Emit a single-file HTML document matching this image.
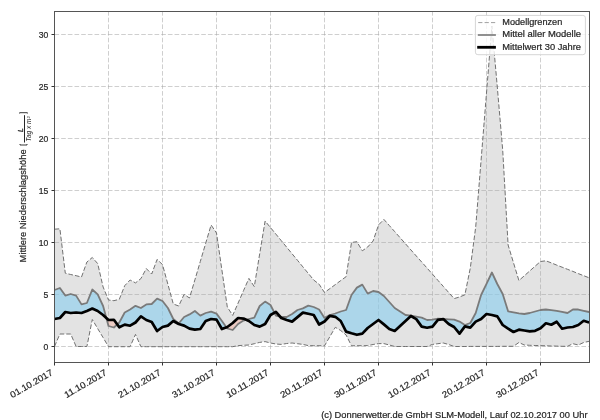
<!DOCTYPE html>
<html><head><meta charset="utf-8"><style>
html,body{margin:0;padding:0;background:#fff;}
svg{display:block;will-change:transform;}
text{font-family:"Liberation Sans",sans-serif;font-size:8.6px;fill:#262626;stroke:#262626;stroke-width:0.2px;}
</style></head><body>
<svg width="600" height="420" viewBox="0 0 600 420">
<defs>
<clipPath id="ca"><polygon points="54.5,319.0 59.9,318.0 65.3,312.0 70.7,313.0 76.1,312.5 81.5,313.0 86.9,311.0 92.3,308.6 97.7,311.0 103.1,315.0 108.5,320.0 113.9,319.8 119.3,327.3 124.7,324.6 130.1,325.7 135.5,322.5 140.9,316.4 146.3,320.0 151.7,322.0 157.1,331.0 162.5,327.0 167.9,325.6 173.3,321.0 178.7,324.0 184.1,325.6 189.5,328.6 194.9,329.6 200.3,329.0 205.7,321.0 211.1,319.0 216.5,319.6 221.9,329.0 227.3,327.0 232.7,323.0 238.1,318.0 243.5,318.6 248.9,321.0 254.3,325.0 259.7,326.6 265.1,324.0 270.5,315.0 275.9,311.8 281.3,318.0 286.7,320.0 292.1,321.6 297.5,317.1 302.9,312.6 308.3,313.8 313.7,315.0 319.1,324.5 324.5,321.5 329.9,315.8 335.3,316.8 340.7,321.0 346.1,331.6 351.5,333.3 356.9,334.8 362.3,333.6 367.7,328.0 373.1,324.0 378.5,320.0 383.9,324.4 389.3,329.0 394.7,331.0 400.1,326.0 405.5,321.0 410.9,316.0 416.3,319.1 421.7,326.6 427.1,327.7 432.5,326.6 437.9,319.9 443.3,319.1 448.7,324.0 454.1,327.0 459.5,333.6 464.9,326.4 470.3,327.6 475.7,321.6 481.1,319.0 486.5,314.0 491.9,315.0 497.3,316.4 502.7,325.0 508.1,328.7 513.5,332.0 518.9,329.7 524.3,330.5 529.7,331.3 535.1,330.8 540.5,328.3 545.9,323.3 551.3,324.7 556.7,321.7 562.1,328.7 567.5,327.5 572.9,327.0 578.3,325.0 583.7,320.8 589.1,322.5 589.1,0 54.5,0"/></clipPath>
<clipPath id="cb"><polygon points="54.5,319.0 59.9,318.0 65.3,312.0 70.7,313.0 76.1,312.5 81.5,313.0 86.9,311.0 92.3,308.6 97.7,311.0 103.1,315.0 108.5,320.0 113.9,319.8 119.3,327.3 124.7,324.6 130.1,325.7 135.5,322.5 140.9,316.4 146.3,320.0 151.7,322.0 157.1,331.0 162.5,327.0 167.9,325.6 173.3,321.0 178.7,324.0 184.1,325.6 189.5,328.6 194.9,329.6 200.3,329.0 205.7,321.0 211.1,319.0 216.5,319.6 221.9,329.0 227.3,327.0 232.7,323.0 238.1,318.0 243.5,318.6 248.9,321.0 254.3,325.0 259.7,326.6 265.1,324.0 270.5,315.0 275.9,311.8 281.3,318.0 286.7,320.0 292.1,321.6 297.5,317.1 302.9,312.6 308.3,313.8 313.7,315.0 319.1,324.5 324.5,321.5 329.9,315.8 335.3,316.8 340.7,321.0 346.1,331.6 351.5,333.3 356.9,334.8 362.3,333.6 367.7,328.0 373.1,324.0 378.5,320.0 383.9,324.4 389.3,329.0 394.7,331.0 400.1,326.0 405.5,321.0 410.9,316.0 416.3,319.1 421.7,326.6 427.1,327.7 432.5,326.6 437.9,319.9 443.3,319.1 448.7,324.0 454.1,327.0 459.5,333.6 464.9,326.4 470.3,327.6 475.7,321.6 481.1,319.0 486.5,314.0 491.9,315.0 497.3,316.4 502.7,325.0 508.1,328.7 513.5,332.0 518.9,329.7 524.3,330.5 529.7,331.3 535.1,330.8 540.5,328.3 545.9,323.3 551.3,324.7 556.7,321.7 562.1,328.7 567.5,327.5 572.9,327.0 578.3,325.0 583.7,320.8 589.1,322.5 589.1,420 54.5,420"/></clipPath>
<clipPath id="ax"><rect x="54.5" y="11.5" width="535.0" height="351.0"/></clipPath>
</defs>
<rect width="600" height="420" fill="#fff"/>
<g clip-path="url(#ax)">
<polygon points="54.5,229.2 59.9,228.8 65.3,273.2 70.7,274.5 76.1,275.7 81.5,277.0 86.9,262.0 92.3,257.5 97.7,263.6 103.1,287.0 108.5,300.0 113.9,300.7 119.3,299.3 124.7,285.7 130.1,280.0 135.5,282.9 140.9,278.6 146.3,268.6 151.7,274.0 157.1,259.4 162.5,264.6 167.9,284.3 173.3,304.0 178.7,306.0 184.1,294.4 189.5,298.0 194.9,279.8 200.3,261.5 205.7,243.2 211.1,225.0 216.5,233.0 221.9,270.0 227.3,307.0 232.7,315.4 238.1,303.1 243.5,290.7 248.9,278.4 254.3,286.6 259.7,253.8 265.1,221.0 270.5,227.6 275.9,234.1 281.3,240.7 286.7,247.2 292.1,253.8 297.5,260.3 302.9,266.9 308.3,273.4 313.7,280.0 319.1,284.2 324.5,292.5 329.9,288.6 335.3,284.6 340.7,280.6 346.1,276.7 351.5,242.5 356.9,241.7 362.3,250.8 367.7,247.0 373.1,241.0 378.5,225.0 383.9,219.4 389.3,225.5 394.7,231.6 400.1,237.7 405.5,243.8 410.9,249.9 416.3,256.0 421.7,262.0 427.1,268.1 432.5,274.2 437.9,280.3 443.3,286.4 448.7,292.5 454.1,298.6 459.5,297.0 464.9,294.8 470.3,268.0 475.7,227.0 481.1,160.0 486.5,93.0 491.9,26.0 497.3,87.0 502.7,150.0 508.1,245.0 513.5,262.8 518.9,280.5 524.3,275.8 529.7,271.0 535.1,266.2 540.5,261.5 545.9,260.8 551.3,262.9 556.7,265.1 562.1,267.2 567.5,269.3 572.9,271.4 578.3,273.6 583.7,275.7 589.1,277.8 589.1,341.3 583.7,342.5 578.3,345.0 572.9,343.7 567.5,346.3 562.1,346.3 556.7,346.1 551.3,346.0 545.9,345.8 540.5,345.6 535.1,345.5 529.7,345.3 524.3,345.0 518.9,342.5 513.5,346.3 508.1,346.3 502.7,346.3 497.3,346.4 491.9,346.4 486.5,346.4 481.1,346.4 475.7,346.4 470.3,346.4 464.9,346.5 459.5,346.5 454.1,346.5 448.7,344.5 443.3,343.0 437.9,343.7 432.5,344.4 427.1,346.5 421.7,346.5 416.3,346.5 410.9,346.5 405.5,346.5 400.1,346.5 394.7,346.5 389.3,345.0 383.9,343.6 378.5,343.6 373.1,344.5 367.7,345.6 362.3,345.7 356.9,345.7 351.5,345.8 346.1,335.0 340.7,330.5 335.3,327.3 329.9,336.6 324.5,345.8 319.1,345.7 313.7,345.7 308.3,345.6 302.9,344.4 297.5,343.7 292.1,343.0 286.7,343.5 281.3,344.4 275.9,344.0 270.5,343.0 265.1,341.6 259.7,342.4 254.3,343.7 248.9,345.0 243.5,345.3 238.1,345.6 232.7,346.7 227.3,346.7 221.9,346.7 216.5,346.7 211.1,346.7 205.7,346.7 200.3,346.7 194.9,346.7 189.5,346.7 184.1,346.7 178.7,346.7 173.3,346.7 167.9,346.7 162.5,346.7 157.1,346.7 151.7,346.7 146.3,346.7 140.9,346.7 135.5,334.4 130.1,346.7 124.7,346.7 119.3,346.7 113.9,346.7 108.5,346.7 103.1,337.6 97.7,328.6 92.3,319.5 86.9,346.5 81.5,346.5 76.1,346.5 70.7,334.0 65.3,334.0 59.9,334.0 54.5,346.5" fill="#e3e3e3"/>
<g stroke="#a8a8a8" stroke-opacity="0.55" stroke-width="1" stroke-dasharray="4.63,2.04" fill="none"><line x1="54.5" y1="346.50" x2="589.5" y2="346.50"/><line x1="54.5" y1="294.50" x2="589.5" y2="294.50"/><line x1="54.5" y1="242.50" x2="589.5" y2="242.50"/><line x1="54.5" y1="190.50" x2="589.5" y2="190.50"/><line x1="54.5" y1="138.50" x2="589.5" y2="138.50"/><line x1="54.5" y1="86.50" x2="589.5" y2="86.50"/><line x1="54.5" y1="34.50" x2="589.5" y2="34.50"/><line x1="54.50" y1="362.5" x2="54.50" y2="11.5"/><line x1="108.50" y1="362.5" x2="108.50" y2="11.5"/><line x1="162.50" y1="362.5" x2="162.50" y2="11.5"/><line x1="216.50" y1="362.5" x2="216.50" y2="11.5"/><line x1="270.50" y1="362.5" x2="270.50" y2="11.5"/><line x1="324.50" y1="362.5" x2="324.50" y2="11.5"/><line x1="378.50" y1="362.5" x2="378.50" y2="11.5"/><line x1="432.50" y1="362.5" x2="432.50" y2="11.5"/><line x1="486.50" y1="362.5" x2="486.50" y2="11.5"/><line x1="540.50" y1="362.5" x2="540.50" y2="11.5"/></g>
<g clip-path="url(#ca)"><polygon points="54.5,290.0 59.9,288.0 65.3,295.6 70.7,294.0 76.1,295.6 81.5,304.4 86.9,303.0 92.3,289.5 97.7,294.3 103.1,306.0 108.5,326.0 113.9,327.5 119.3,322.5 124.7,312.5 130.1,309.5 135.5,305.8 140.9,308.0 146.3,304.4 151.7,304.0 157.1,298.6 162.5,301.0 167.9,308.0 173.3,319.0 178.7,323.5 184.1,317.0 189.5,314.4 194.9,311.0 200.3,315.6 205.7,313.0 211.1,311.6 216.5,313.6 221.9,321.0 227.3,328.5 232.7,330.0 238.1,324.0 243.5,320.6 248.9,319.0 254.3,317.6 259.7,306.0 265.1,301.6 270.5,305.0 275.9,315.6 281.3,317.0 286.7,317.0 292.1,314.0 297.5,310.0 302.9,308.4 308.3,305.6 313.7,307.0 319.1,309.5 324.5,317.9 329.9,315.0 335.3,313.5 340.7,311.5 346.1,310.0 351.5,295.0 356.9,287.6 362.3,284.6 367.7,293.6 373.1,291.0 378.5,292.0 383.9,296.0 389.3,302.0 394.7,308.0 400.1,311.5 405.5,315.0 410.9,315.6 416.3,316.6 421.7,317.6 427.1,320.0 432.5,319.6 437.9,318.6 443.3,318.9 448.7,319.3 454.1,319.6 459.5,321.6 464.9,325.0 470.3,323.0 475.7,313.0 481.1,295.0 486.5,283.8 491.9,272.5 497.3,284.0 502.7,294.0 508.1,311.3 513.5,312.3 518.9,313.3 524.3,314.0 529.7,313.0 535.1,311.5 540.5,310.0 545.9,309.5 551.3,310.1 556.7,310.8 562.1,311.9 567.5,313.0 572.9,309.5 578.3,309.5 583.7,310.8 589.1,312.0 589.1,322.5 583.7,320.8 578.3,325.0 572.9,327.0 567.5,327.5 562.1,328.7 556.7,321.7 551.3,324.7 545.9,323.3 540.5,328.3 535.1,330.8 529.7,331.3 524.3,330.5 518.9,329.7 513.5,332.0 508.1,328.7 502.7,325.0 497.3,316.4 491.9,315.0 486.5,314.0 481.1,319.0 475.7,321.6 470.3,327.6 464.9,326.4 459.5,333.6 454.1,327.0 448.7,324.0 443.3,319.1 437.9,319.9 432.5,326.6 427.1,327.7 421.7,326.6 416.3,319.1 410.9,316.0 405.5,321.0 400.1,326.0 394.7,331.0 389.3,329.0 383.9,324.4 378.5,320.0 373.1,324.0 367.7,328.0 362.3,333.6 356.9,334.8 351.5,333.3 346.1,331.6 340.7,321.0 335.3,316.8 329.9,315.8 324.5,321.5 319.1,324.5 313.7,315.0 308.3,313.8 302.9,312.6 297.5,317.1 292.1,321.6 286.7,320.0 281.3,318.0 275.9,311.8 270.5,315.0 265.1,324.0 259.7,326.6 254.3,325.0 248.9,321.0 243.5,318.6 238.1,318.0 232.7,323.0 227.3,327.0 221.9,329.0 216.5,319.6 211.1,319.0 205.7,321.0 200.3,329.0 194.9,329.6 189.5,328.6 184.1,325.6 178.7,324.0 173.3,321.0 167.9,325.6 162.5,327.0 157.1,331.0 151.7,322.0 146.3,320.0 140.9,316.4 135.5,322.5 130.1,325.7 124.7,324.6 119.3,327.3 113.9,319.8 108.5,320.0 103.1,315.0 97.7,311.0 92.3,308.6 86.9,311.0 81.5,313.0 76.1,312.5 70.7,313.0 65.3,312.0 59.9,318.0 54.5,319.0" fill="#87cdee" fill-opacity="0.6"/></g>
<g clip-path="url(#cb)"><polygon points="54.5,290.0 59.9,288.0 65.3,295.6 70.7,294.0 76.1,295.6 81.5,304.4 86.9,303.0 92.3,289.5 97.7,294.3 103.1,306.0 108.5,326.0 113.9,327.5 119.3,322.5 124.7,312.5 130.1,309.5 135.5,305.8 140.9,308.0 146.3,304.4 151.7,304.0 157.1,298.6 162.5,301.0 167.9,308.0 173.3,319.0 178.7,323.5 184.1,317.0 189.5,314.4 194.9,311.0 200.3,315.6 205.7,313.0 211.1,311.6 216.5,313.6 221.9,321.0 227.3,328.5 232.7,330.0 238.1,324.0 243.5,320.6 248.9,319.0 254.3,317.6 259.7,306.0 265.1,301.6 270.5,305.0 275.9,315.6 281.3,317.0 286.7,317.0 292.1,314.0 297.5,310.0 302.9,308.4 308.3,305.6 313.7,307.0 319.1,309.5 324.5,317.9 329.9,315.0 335.3,313.5 340.7,311.5 346.1,310.0 351.5,295.0 356.9,287.6 362.3,284.6 367.7,293.6 373.1,291.0 378.5,292.0 383.9,296.0 389.3,302.0 394.7,308.0 400.1,311.5 405.5,315.0 410.9,315.6 416.3,316.6 421.7,317.6 427.1,320.0 432.5,319.6 437.9,318.6 443.3,318.9 448.7,319.3 454.1,319.6 459.5,321.6 464.9,325.0 470.3,323.0 475.7,313.0 481.1,295.0 486.5,283.8 491.9,272.5 497.3,284.0 502.7,294.0 508.1,311.3 513.5,312.3 518.9,313.3 524.3,314.0 529.7,313.0 535.1,311.5 540.5,310.0 545.9,309.5 551.3,310.1 556.7,310.8 562.1,311.9 567.5,313.0 572.9,309.5 578.3,309.5 583.7,310.8 589.1,312.0 589.1,322.5 583.7,320.8 578.3,325.0 572.9,327.0 567.5,327.5 562.1,328.7 556.7,321.7 551.3,324.7 545.9,323.3 540.5,328.3 535.1,330.8 529.7,331.3 524.3,330.5 518.9,329.7 513.5,332.0 508.1,328.7 502.7,325.0 497.3,316.4 491.9,315.0 486.5,314.0 481.1,319.0 475.7,321.6 470.3,327.6 464.9,326.4 459.5,333.6 454.1,327.0 448.7,324.0 443.3,319.1 437.9,319.9 432.5,326.6 427.1,327.7 421.7,326.6 416.3,319.1 410.9,316.0 405.5,321.0 400.1,326.0 394.7,331.0 389.3,329.0 383.9,324.4 378.5,320.0 373.1,324.0 367.7,328.0 362.3,333.6 356.9,334.8 351.5,333.3 346.1,331.6 340.7,321.0 335.3,316.8 329.9,315.8 324.5,321.5 319.1,324.5 313.7,315.0 308.3,313.8 302.9,312.6 297.5,317.1 292.1,321.6 286.7,320.0 281.3,318.0 275.9,311.8 270.5,315.0 265.1,324.0 259.7,326.6 254.3,325.0 248.9,321.0 243.5,318.6 238.1,318.0 232.7,323.0 227.3,327.0 221.9,329.0 216.5,319.6 211.1,319.0 205.7,321.0 200.3,329.0 194.9,329.6 189.5,328.6 184.1,325.6 178.7,324.0 173.3,321.0 167.9,325.6 162.5,327.0 157.1,331.0 151.7,322.0 146.3,320.0 140.9,316.4 135.5,322.5 130.1,325.7 124.7,324.6 119.3,327.3 113.9,319.8 108.5,320.0 103.1,315.0 97.7,311.0 92.3,308.6 86.9,311.0 81.5,313.0 76.1,312.5 70.7,313.0 65.3,312.0 59.9,318.0 54.5,319.0" fill="#f2bbad" fill-opacity="0.6"/></g>
<polyline points="54.5,229.2 59.9,228.8 65.3,273.2 70.7,274.5 76.1,275.7 81.5,277.0 86.9,262.0 92.3,257.5 97.7,263.6 103.1,287.0 108.5,300.0 113.9,300.7 119.3,299.3 124.7,285.7 130.1,280.0 135.5,282.9 140.9,278.6 146.3,268.6 151.7,274.0 157.1,259.4 162.5,264.6 167.9,284.3 173.3,304.0 178.7,306.0 184.1,294.4 189.5,298.0 194.9,279.8 200.3,261.5 205.7,243.2 211.1,225.0 216.5,233.0 221.9,270.0 227.3,307.0 232.7,315.4 238.1,303.1 243.5,290.7 248.9,278.4 254.3,286.6 259.7,253.8 265.1,221.0 270.5,227.6 275.9,234.1 281.3,240.7 286.7,247.2 292.1,253.8 297.5,260.3 302.9,266.9 308.3,273.4 313.7,280.0 319.1,284.2 324.5,292.5 329.9,288.6 335.3,284.6 340.7,280.6 346.1,276.7 351.5,242.5 356.9,241.7 362.3,250.8 367.7,247.0 373.1,241.0 378.5,225.0 383.9,219.4 389.3,225.5 394.7,231.6 400.1,237.7 405.5,243.8 410.9,249.9 416.3,256.0 421.7,262.0 427.1,268.1 432.5,274.2 437.9,280.3 443.3,286.4 448.7,292.5 454.1,298.6 459.5,297.0 464.9,294.8 470.3,268.0 475.7,227.0 481.1,160.0 486.5,93.0 491.9,26.0 497.3,87.0 502.7,150.0 508.1,245.0 513.5,262.8 518.9,280.5 524.3,275.8 529.7,271.0 535.1,266.2 540.5,261.5 545.9,260.8 551.3,262.9 556.7,265.1 562.1,267.2 567.5,269.3 572.9,271.4 578.3,273.6 583.7,275.7 589.1,277.8" fill="none" stroke="#707070" stroke-width="1" stroke-dasharray="4.63,2.04"/>
<polyline points="54.5,346.5 59.9,334.0 65.3,334.0 70.7,334.0 76.1,346.5 81.5,346.5 86.9,346.5 92.3,319.5 97.7,328.6 103.1,337.6 108.5,346.7 113.9,346.7 119.3,346.7 124.7,346.7 130.1,346.7 135.5,334.4 140.9,346.7 146.3,346.7 151.7,346.7 157.1,346.7 162.5,346.7 167.9,346.7 173.3,346.7 178.7,346.7 184.1,346.7 189.5,346.7 194.9,346.7 200.3,346.7 205.7,346.7 211.1,346.7 216.5,346.7 221.9,346.7 227.3,346.7 232.7,346.7 238.1,345.6 243.5,345.3 248.9,345.0 254.3,343.7 259.7,342.4 265.1,341.6 270.5,343.0 275.9,344.0 281.3,344.4 286.7,343.5 292.1,343.0 297.5,343.7 302.9,344.4 308.3,345.6 313.7,345.7 319.1,345.7 324.5,345.8 329.9,336.6 335.3,327.3 340.7,330.5 346.1,335.0 351.5,345.8 356.9,345.7 362.3,345.7 367.7,345.6 373.1,344.5 378.5,343.6 383.9,343.6 389.3,345.0 394.7,346.5 400.1,346.5 405.5,346.5 410.9,346.5 416.3,346.5 421.7,346.5 427.1,346.5 432.5,344.4 437.9,343.7 443.3,343.0 448.7,344.5 454.1,346.5 459.5,346.5 464.9,346.5 470.3,346.4 475.7,346.4 481.1,346.4 486.5,346.4 491.9,346.4 497.3,346.4 502.7,346.3 508.1,346.3 513.5,346.3 518.9,342.5 524.3,345.0 529.7,345.3 535.1,345.5 540.5,345.6 545.9,345.8 551.3,346.0 556.7,346.1 562.1,346.3 567.5,346.3 572.9,343.7 578.3,345.0 583.7,342.5 589.1,341.3" fill="none" stroke="#707070" stroke-width="1" stroke-dasharray="4.63,2.04"/>
<polyline points="54.5,290.0 59.9,288.0 65.3,295.6 70.7,294.0 76.1,295.6 81.5,304.4 86.9,303.0 92.3,289.5 97.7,294.3 103.1,306.0 108.5,326.0 113.9,327.5 119.3,322.5 124.7,312.5 130.1,309.5 135.5,305.8 140.9,308.0 146.3,304.4 151.7,304.0 157.1,298.6 162.5,301.0 167.9,308.0 173.3,319.0 178.7,323.5 184.1,317.0 189.5,314.4 194.9,311.0 200.3,315.6 205.7,313.0 211.1,311.6 216.5,313.6 221.9,321.0 227.3,328.5 232.7,330.0 238.1,324.0 243.5,320.6 248.9,319.0 254.3,317.6 259.7,306.0 265.1,301.6 270.5,305.0 275.9,315.6 281.3,317.0 286.7,317.0 292.1,314.0 297.5,310.0 302.9,308.4 308.3,305.6 313.7,307.0 319.1,309.5 324.5,317.9 329.9,315.0 335.3,313.5 340.7,311.5 346.1,310.0 351.5,295.0 356.9,287.6 362.3,284.6 367.7,293.6 373.1,291.0 378.5,292.0 383.9,296.0 389.3,302.0 394.7,308.0 400.1,311.5 405.5,315.0 410.9,315.6 416.3,316.6 421.7,317.6 427.1,320.0 432.5,319.6 437.9,318.6 443.3,318.9 448.7,319.3 454.1,319.6 459.5,321.6 464.9,325.0 470.3,323.0 475.7,313.0 481.1,295.0 486.5,283.8 491.9,272.5 497.3,284.0 502.7,294.0 508.1,311.3 513.5,312.3 518.9,313.3 524.3,314.0 529.7,313.0 535.1,311.5 540.5,310.0 545.9,309.5 551.3,310.1 556.7,310.8 562.1,311.9 567.5,313.0 572.9,309.5 578.3,309.5 583.7,310.8 589.1,312.0" fill="none" stroke="#7a7a7a" stroke-width="1.8" stroke-linejoin="round"/>
<polyline points="54.5,319.0 59.9,318.0 65.3,312.0 70.7,313.0 76.1,312.5 81.5,313.0 86.9,311.0 92.3,308.6 97.7,311.0 103.1,315.0 108.5,320.0 113.9,319.8 119.3,327.3 124.7,324.6 130.1,325.7 135.5,322.5 140.9,316.4 146.3,320.0 151.7,322.0 157.1,331.0 162.5,327.0 167.9,325.6 173.3,321.0 178.7,324.0 184.1,325.6 189.5,328.6 194.9,329.6 200.3,329.0 205.7,321.0 211.1,319.0 216.5,319.6 221.9,329.0 227.3,327.0 232.7,323.0 238.1,318.0 243.5,318.6 248.9,321.0 254.3,325.0 259.7,326.6 265.1,324.0 270.5,315.0 275.9,311.8 281.3,318.0 286.7,320.0 292.1,321.6 297.5,317.1 302.9,312.6 308.3,313.8 313.7,315.0 319.1,324.5 324.5,321.5 329.9,315.8 335.3,316.8 340.7,321.0 346.1,331.6 351.5,333.3 356.9,334.8 362.3,333.6 367.7,328.0 373.1,324.0 378.5,320.0 383.9,324.4 389.3,329.0 394.7,331.0 400.1,326.0 405.5,321.0 410.9,316.0 416.3,319.1 421.7,326.6 427.1,327.7 432.5,326.6 437.9,319.9 443.3,319.1 448.7,324.0 454.1,327.0 459.5,333.6 464.9,326.4 470.3,327.6 475.7,321.6 481.1,319.0 486.5,314.0 491.9,315.0 497.3,316.4 502.7,325.0 508.1,328.7 513.5,332.0 518.9,329.7 524.3,330.5 529.7,331.3 535.1,330.8 540.5,328.3 545.9,323.3 551.3,324.7 556.7,321.7 562.1,328.7 567.5,327.5 572.9,327.0 578.3,325.0 583.7,320.8 589.1,322.5" fill="none" stroke="#000" stroke-width="2.7" stroke-linejoin="round"/>
</g>
<rect x="54.5" y="11.5" width="535.0" height="351.0" fill="none" stroke="#555" stroke-width="1"/>
<g stroke="#333" stroke-width="1"><line x1="51.5" y1="346.50" x2="54.5" y2="346.50"/><line x1="51.5" y1="294.50" x2="54.5" y2="294.50"/><line x1="51.5" y1="242.50" x2="54.5" y2="242.50"/><line x1="51.5" y1="190.50" x2="54.5" y2="190.50"/><line x1="51.5" y1="138.50" x2="54.5" y2="138.50"/><line x1="51.5" y1="86.50" x2="54.5" y2="86.50"/><line x1="51.5" y1="34.50" x2="54.5" y2="34.50"/><line x1="54.50" y1="362.5" x2="54.50" y2="365.5"/><line x1="108.50" y1="362.5" x2="108.50" y2="365.5"/><line x1="162.50" y1="362.5" x2="162.50" y2="365.5"/><line x1="216.50" y1="362.5" x2="216.50" y2="365.5"/><line x1="270.50" y1="362.5" x2="270.50" y2="365.5"/><line x1="324.50" y1="362.5" x2="324.50" y2="365.5"/><line x1="378.50" y1="362.5" x2="378.50" y2="365.5"/><line x1="432.50" y1="362.5" x2="432.50" y2="365.5"/><line x1="486.50" y1="362.5" x2="486.50" y2="365.5"/><line x1="540.50" y1="362.5" x2="540.50" y2="365.5"/></g>
<text x="48.2" y="349.50" text-anchor="end">0</text>
<text x="48.2" y="297.50" text-anchor="end">5</text>
<text x="48.2" y="245.50" text-anchor="end">10</text>
<text x="48.2" y="193.50" text-anchor="end">15</text>
<text x="48.2" y="141.50" text-anchor="end">20</text>
<text x="48.2" y="89.50" text-anchor="end">25</text>
<text x="48.2" y="37.50" text-anchor="end">30</text>
<text transform="translate(53.50,374.40) rotate(-30)" text-anchor="end" textLength="47.5" lengthAdjust="spacingAndGlyphs" style="font-size:9px">01.10.2017</text>
<text transform="translate(107.50,374.40) rotate(-30)" text-anchor="end" textLength="47.5" lengthAdjust="spacingAndGlyphs" style="font-size:9px">11.10.2017</text>
<text transform="translate(161.50,374.40) rotate(-30)" text-anchor="end" textLength="47.5" lengthAdjust="spacingAndGlyphs" style="font-size:9px">21.10.2017</text>
<text transform="translate(215.50,374.40) rotate(-30)" text-anchor="end" textLength="47.5" lengthAdjust="spacingAndGlyphs" style="font-size:9px">31.10.2017</text>
<text transform="translate(269.50,374.40) rotate(-30)" text-anchor="end" textLength="47.5" lengthAdjust="spacingAndGlyphs" style="font-size:9px">10.11.2017</text>
<text transform="translate(323.50,374.40) rotate(-30)" text-anchor="end" textLength="47.5" lengthAdjust="spacingAndGlyphs" style="font-size:9px">20.11.2017</text>
<text transform="translate(377.50,374.40) rotate(-30)" text-anchor="end" textLength="47.5" lengthAdjust="spacingAndGlyphs" style="font-size:9px">30.11.2017</text>
<text transform="translate(431.50,374.40) rotate(-30)" text-anchor="end" textLength="47.5" lengthAdjust="spacingAndGlyphs" style="font-size:9px">10.12.2017</text>
<text transform="translate(485.50,374.40) rotate(-30)" text-anchor="end" textLength="47.5" lengthAdjust="spacingAndGlyphs" style="font-size:9px">20.12.2017</text>
<text transform="translate(539.50,374.40) rotate(-30)" text-anchor="end" textLength="47.5" lengthAdjust="spacingAndGlyphs" style="font-size:9px">30.12.2017</text>
<g transform="translate(26.6,262) rotate(-90)">
<text x="-0.4" y="-0.7" textLength="113" lengthAdjust="spacingAndGlyphs" style="font-size:8.6px">Mittlere Niederschlagshöhe</text>
<path d="M118,-6.6 L117,-6.6 L117,0.4 L118,0.4 M148.5,-7 L149.3,-7 L149.3,0.8 L148.5,0.8" fill="none" stroke="#262626" stroke-width="0.9"/>
<line x1="119.5" y1="-2.1" x2="146.8" y2="-2.1" stroke="#262626" stroke-width="1"/>
<text x="130" y="-3.4" style="font-size:6.6px;font-style:italic;stroke-width:0.3px">L</text>
<text x="120.6" y="4.1" textLength="25" lengthAdjust="spacingAndGlyphs" style="font-size:6.4px;font-style:italic;stroke-width:0">Tag x m²</text>
</g>
<g transform="translate(475.4,15.4)">
<rect x="0" y="0" width="110" height="39.3" rx="2.5" fill="#fff" fill-opacity="0.8" stroke="#d6d6d6" stroke-width="1"/>
<line x1="2.8" y1="7.2" x2="20" y2="7.2" stroke="#a0a0a0" stroke-width="1" stroke-dasharray="4.2,2.2"/>
<line x1="2.4" y1="19.6" x2="20.5" y2="19.6" stroke="#858585" stroke-width="1.8"/>
<line x1="1.8" y1="31.9" x2="20.5" y2="31.9" stroke="#000" stroke-width="2.8"/>
<text x="26.9" y="9.5" style="font-size:8.6px" textLength="60" lengthAdjust="spacingAndGlyphs">Modellgrenzen</text>
<text x="26.9" y="22" style="font-size:8.6px" textLength="78.7" lengthAdjust="spacingAndGlyphs">Mittel aller Modelle</text>
<text x="26.9" y="34.4" style="font-size:8.6px" textLength="78.7" lengthAdjust="spacingAndGlyphs">Mittelwert 30 Jahre</text>
</g>
<text x="321.2" y="417.7" textLength="266.3" lengthAdjust="spacingAndGlyphs">(c) Donnerwetter.de GmbH SLM-Modell, Lauf 02.10.2017 00 Uhr</text>
</svg>
</body></html>
